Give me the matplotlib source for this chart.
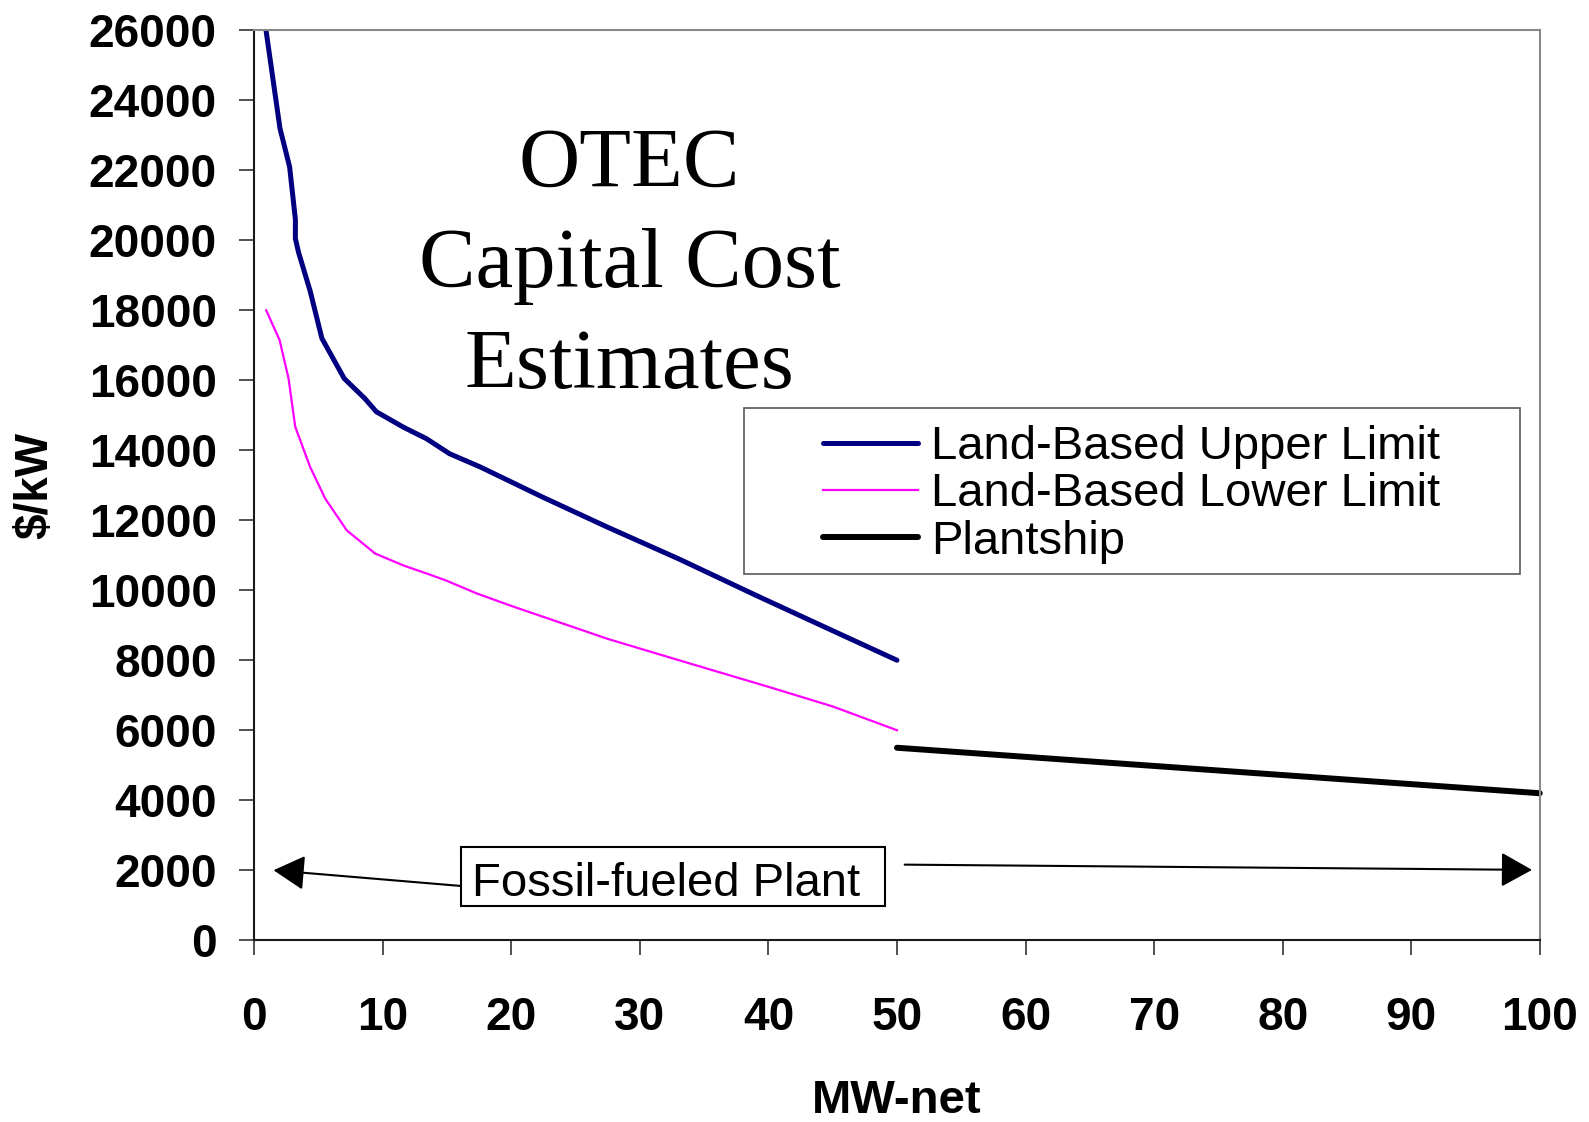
import matplotlib.pyplot as plt
from matplotlib.patches import Rectangle

plt.rcParams['font.family'] = ['Liberation Sans', 'DejaVu Sans']

# data
upper_mw = [0.8, 2.0, 2.75, 3.2, 3.2, 3.45, 4.35, 5.26, 7.0, 8.6, 9.5, 11.6, 13.4, 15.2, 17.6,
            22.5, 27.5, 33.0, 39.0, 44.9, 50.0]
upper_cost = [26300, 23200, 22100, 20600, 20050, 19650, 18550, 17200, 16050, 15480, 15100, 14660,
              14330, 13900, 13520, 12650, 11800, 10900, 9860, 8860, 8000]

lower_mw = [0.93, 1.97, 2.67, 3.19, 4.35, 5.52, 7.2, 9.4, 11.6, 13.4, 14.85, 17.3, 20.1, 27.5,
            33.5, 40.1, 45.0, 50.0]
lower_cost = [18000, 17150, 16050, 14670, 13520, 12620, 11710, 11050, 10710, 10480, 10290, 9910,
              9540, 8610, 7950, 7230, 6680, 6000]

ship_mw = [50, 100]
ship_cost = [5500, 4200]

fig = plt.figure(figsize=(15.89, 11.22), dpi=100)
ax = fig.add_axes([0.160, 0.162, 0.809, 0.811])

ax.plot(upper_mw, upper_cost, color='#000080', lw=3.6, label='Land-Based Upper Limit',
        solid_capstyle='round')
ax.plot(lower_mw, lower_cost, color='#FF00FF', lw=1.6, label='Land-Based Lower Limit')
ax.plot(ship_mw, ship_cost, color='black', lw=4.3, label='Plantship', solid_capstyle='round',
        clip_on=False)

ax.set_xlim(0, 100)
ax.set_ylim(0, 26000)
ax.set_xticks(range(0, 101, 10))
ax.set_yticks(range(0, 26001, 2000))

for s in ['left', 'bottom']:
    ax.spines[s].set_color('0.1')
    ax.spines[s].set_linewidth(1.5)
for s in ['top', 'right']:
    ax.spines[s].set_color('#888888')
    ax.spines[s].set_linewidth(1.5)

ax.tick_params(axis='both', direction='out', length=11, width=1.2, color='0.2')
ax.tick_params(axis='y', pad=16)
ax.tick_params(axis='x', pad=29)
for lab in ax.get_xticklabels() + ax.get_yticklabels():
    lab.set_fontsize(33)
    lab.set_fontweight('bold')

fig.text(0.5645, 0.019, 'MW-net', fontsize=34, fontweight='bold', ha='center', va='center')
fig.text(0.0225, 0.567, '$/kW', fontsize=33, fontweight='bold', ha='center', va='center',
         rotation=90)

# big title inside the plot
ax.text(29.2, 19250, 'OTEC\nCapital Cost\nEstimates', fontsize=61, family='Liberation Serif',
        ha='center', va='center', multialignment='center', linespacing=1.4)

# legend with a hand drawn frame
ax.add_patch(Rectangle((0.381, 0.403), 0.6035, 0.1816, transform=ax.transAxes, fill=False,
                       edgecolor='0.35', lw=1.2, zorder=4))
ax.legend(loc='center left', bbox_to_anchor=(0.4425, 0.490), frameon=False, fontsize=34,
          borderpad=0, borderaxespad=0, labelspacing=0.07, handlelength=2.0, handletextpad=0.28)

# fossil-fueled plant range
ax.add_patch(Rectangle((16.1, 970), 33.0, 1690, facecolor='white', edgecolor='black', lw=1.5,
                       zorder=4))
ax.text(32.05, 1610, 'Fossil-fueled Plant', fontsize=34, ha='center', va='center', zorder=5)
ax.annotate('', xy=(1.5, 2000), xytext=(16.1, 1550),
            arrowprops=dict(arrowstyle='-|>,head_length=0.97,head_width=0.54', mutation_scale=20,
                            color='black', lw=1.5, shrinkA=0, shrinkB=0))
ax.annotate('', xy=(99.4, 2010), xytext=(50.6, 2160),
            arrowprops=dict(arrowstyle='-|>,head_length=0.97,head_width=0.54', mutation_scale=20,
                            color='black', lw=1.5, shrinkA=0, shrinkB=0))

fig.savefig('out.png', dpi=100, facecolor='white')
